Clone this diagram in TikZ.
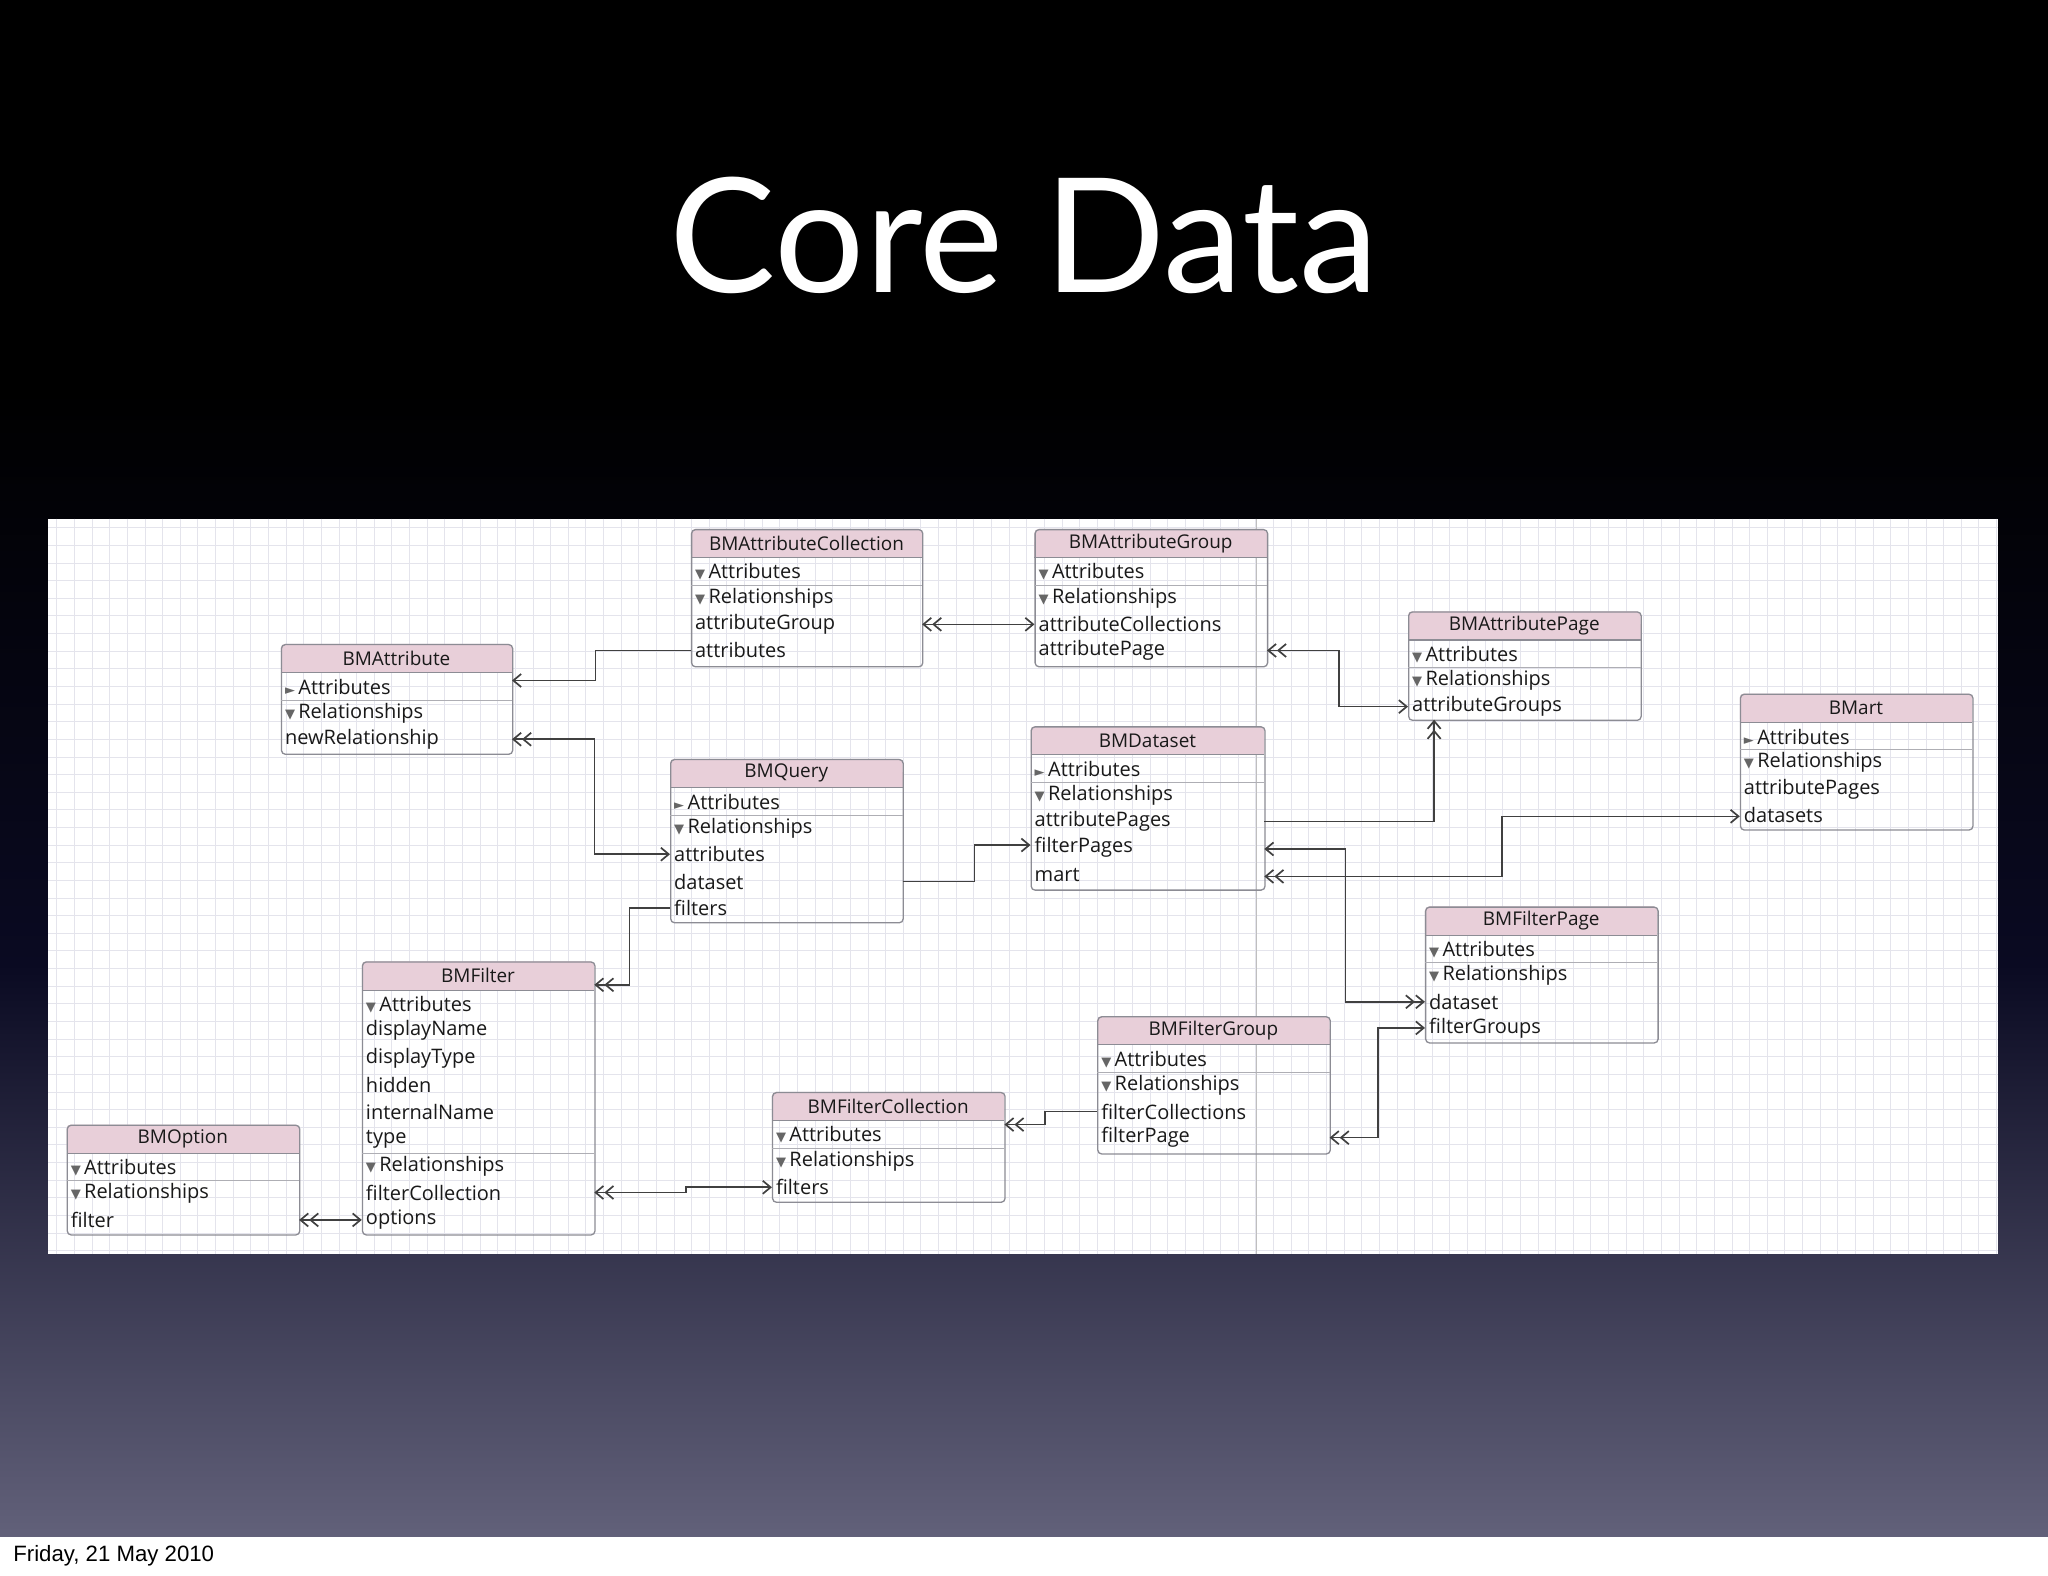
\documentclass[tikz,border=0pt]{standalone}
\usepackage{fontspec}
\setmainfont{Open Sans}
\newfontfamily\titlefont{Lato}
\newfontfamily\symf{DejaVu Sans}
\newfontfamily\datef{Liberation Sans}
\usetikzlibrary{arrows.meta}
\definecolor{hdr}{HTML}{E8CFD9}
\definecolor{bord}{HTML}{8C8C94}
\definecolor{gridc}{HTML}{E4E4EC}
\definecolor{bot}{HTML}{62617A}
\definecolor{mid}{HTML}{0A0A22}
\tikzset{
 ebox/.style={draw=bord, line width=1pt, rounded corners=3pt, inner sep=0pt},
 rowtxt/.style={anchor=west, inner sep=0pt, font=\fontsize{15.3}{16}\selectfont, text=black!90},
 ttl/.style={inner sep=0pt, font=\fontsize{14.5}{15}\selectfont, text=black!90},
 conn/.style={draw=black!75, line width=1.2pt},
 onetip/.tip={Straight Barb[length=6pt,width=10pt,line width=1.3pt]},
 manytip/.tip={Straight Barb[length=6pt,width=10pt,line width=1.3pt]Straight Barb[length=6pt,width=10pt,line width=1.3pt]},
}
\newcommand\ent[6]{%
 \fill[hdr, rounded corners=3pt] (#2,#3) rectangle (#4,#3+22);
 \fill[hdr] (#2,#3+10) rectangle (#4,#3+22);
 \draw[bord, line width=0.8pt] (#2,#3+22) -- (#4,#3+22);
 \node (#1) [ebox, minimum width={#4-#2}, minimum height={#5-#3}, anchor=north west] at (#2,#3) {};
 \node[ttl] (#1-t) at ({(#2+#4)/2},#3+11) {#6};}
\newcommand\rw[3]{\node[rowtxt] at (#1+3,#2) {#3};}
\newcommand\sep[3]{\draw[bord!70, line width=0.7pt] (#1,#3) -- (#2,#3);}
\newcommand\dn{{\symf\fontsize{10}{10}\selectfont\textcolor{black!60}{▼}}\,}
\newcommand\rt{{\symf\fontsize{10}{10}\selectfont\textcolor{black!60}{►}}\,}
\begin{document}
\begin{tikzpicture}[x=1pt,y=-1pt]
\useasboundingbox (0,0) rectangle (1568,1206);
\fill[black] (0,0) rectangle (1568,300);
\shade[top color=black, bottom color=bot, middle color=mid] (0,299) rectangle (1568,1178);
\fill[white] (0,1177) rectangle (1568,1206);
\node[text=white, font=\titlefont\fontsize{122}{130}\selectfont, inner sep=0pt] (title) at (784,180) {Core Data};
\node[anchor=west, inner sep=0pt, font=\datef\fontsize{17}{18}\selectfont] (date) at (10,1191) {Friday, 21 May 2010};
\fill[white] (37,397) rectangle (1530,960);
\foreach \gx in {43.5,57,...,1530} \draw[gridc, line width=0.6pt] (\gx,397) -- (\gx,960);
\foreach \gy in {404,417.5,...,960} \draw[gridc, line width=0.6pt] (37,\gy) -- (1530,\gy);
\draw[black!25, line width=0.8pt] (962,397) -- (962,960);
\ent{ac}{529}{405}{706}{510}{BMAttributeCollection}
\rw{529}{438}{\dn Attributes}\sep{529}{706}{448}
\rw{529}{458}{\dn Relationships}\rw{529}{478}{attributeGroup}\rw{529}{498}{attributes}
\ent{ag}{792}{405}{970}{510}{BMAttributeGroup}
\rw{792}{438}{\dn Attributes}\sep{792}{970}{448}
\rw{792}{458}{\dn Relationships}\rw{792}{478}{attributeCollections}\rw{792}{498}{attributePage}
\ent{ap}{1078}{468}{1256}{551}{BMAttributePage}
\rw{1078}{501}{\dn Attributes}\sep{1078}{1256}{511}
\rw{1078}{521}{\dn Relationships}\rw{1078}{541}{attributeGroups}
\ent{at}{215}{493}{392}{577}{BMAttribute}
\rw{215}{526}{\rt Attributes}\sep{215}{392}{536}
\rw{215}{546}{\dn Relationships}\rw{215}{566}{newRelationship}
\ent{mt}{1332}{531}{1510}{635}{BMart}
\rw{1332}{564}{\rt Attributes}\sep{1332}{1510}{574}
\rw{1332}{584}{\dn Relationships}\rw{1332}{604}{attributePages}\rw{1332}{624}{datasets}
\ent{q}{513}{581}{691}{706}{BMQuery}
\rw{513}{614}{\rt Attributes}\sep{513}{691}{624}
\rw{513}{634}{\dn Relationships}\rw{513}{654}{attributes}\rw{513}{675}{dataset}\rw{513}{695}{filters}
\ent{ds}{789}{556}{968}{681}{BMDataset}
\rw{789}{589}{\rt Attributes}\sep{789}{968}{599}
\rw{789}{609}{\dn Relationships}\rw{789}{629}{attributePages}\rw{789}{649}{filterPages}\rw{789}{670}{mart}
\ent{fp}{1091}{694}{1269}{798}{BMFilterPage}
\rw{1091}{727}{\dn Attributes}\sep{1091}{1269}{737}
\rw{1091}{747}{\dn Relationships}\rw{1091}{767}{dataset}\rw{1091}{787}{filterGroups}
\ent{f}{277}{736}{455}{945}{BMFilter}
\rw{277}{769}{\dn Attributes}\rw{277}{789}{displayName}\rw{277}{810}{displayType}\rw{277}{831}{hidden}
\rw{277}{851}{internalName}\rw{277}{872}{type}\sep{277}{455}{883}
\rw{277}{893}{\dn Relationships}\rw{277}{913}{filterCollection}\rw{277}{934}{options}
\ent{fg}{840}{778}{1018}{883}{BMFilterGroup}
\rw{840}{811}{\dn Attributes}\sep{840}{1018}{821}
\rw{840}{831}{\dn Relationships}\rw{840}{851}{filterCollections}\rw{840}{871}{filterPage}
\ent{fc}{591}{836}{769}{920}{BMFilterCollection}
\rw{591}{869}{\dn Attributes}\sep{591}{769}{879}
\rw{591}{889}{\dn Relationships}\rw{591}{909}{filters}
\ent{op}{51}{861}{229}{945}{BMOption}
\rw{51}{894}{\dn Attributes}\sep{51}{229}{904}
\rw{51}{914}{\dn Relationships}\rw{51}{934}{filter}
\coordinate (ac1) at (706,478); \coordinate (ag1) at (792,478);
\coordinate (ac2) at (529,498); \coordinate (at1) at (392,521);
\coordinate (at2) at (392,566); \coordinate (q1) at (513,654);
\coordinate (ag2) at (970,498); \coordinate (ap1) at (1078,541);
\coordinate (ds1) at (968,629); \coordinate (ap2) at (1098,551);
\coordinate (q2) at (691,675); \coordinate (ds2) at (789,647);
\coordinate (ds3) at (968,671); \coordinate (mt1) at (1332,625);
\coordinate (ds4) at (968,650); \coordinate (fp1) at (1091,767);
\coordinate (q3) at (513,695); \coordinate (f1) at (455,754);
\coordinate (fg1) at (840,851); \coordinate (fc1) at (769,861);
\coordinate (fg2) at (1018,871); \coordinate (fp2) at (1091,787);
\coordinate (f2) at (455,913); \coordinate (fc2) at (591,909);
\coordinate (op1) at (229,934); \coordinate (f3) at (277,934);
\draw[conn, manytip-onetip] (ac1) -- (ag1);
\draw[conn, -onetip] (ac2) -| (456,521) -- (at1);
\draw[conn, manytip-onetip] (at2) -- (455,566) |- (q1);
\draw[conn, manytip-onetip] (ag2) -- (1025,498) |- (ap1);
\draw[conn, -manytip] (ds1) -| (ap2);
\draw[conn, -onetip] (q2) -- (746,675) |- (ds2);
\draw[conn, manytip-onetip] (ds3) -- (1150,671) |- (mt1);
\draw[conn, onetip-manytip] (ds4) -- (1030,650) |- (fp1);
\draw[conn, -manytip] (q3) -- (482,695) |- (f1);
\draw[conn, -manytip] (fg1) -- (800,851) |- (fc1);
\draw[conn, manytip-onetip] (fg2) -- (1055,871) |- (fp2);
\draw[conn, manytip-onetip] (f2) -- (525,913) |- (fc2);
\draw[conn, manytip-onetip] (op1) -- (f3);
\end{tikzpicture}
\end{document}
